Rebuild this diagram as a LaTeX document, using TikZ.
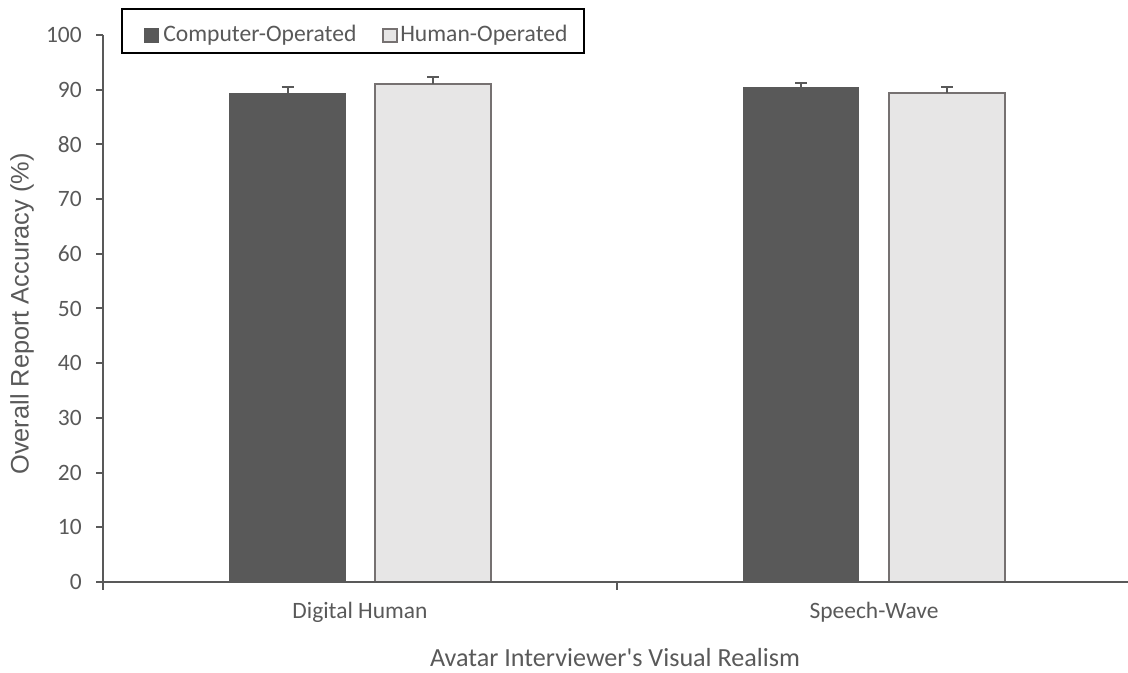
\documentclass[tikz,border=0pt]{standalone}
\usepackage{fontspec}
\setmainfont{Carlito}
\newfontfamily\ylabelfont{Liberation Sans}
\definecolor{txt}{HTML}{595959}
\definecolor{codark}{HTML}{595959}
\definecolor{holight}{HTML}{E7E6E6}
\definecolor{hoedge}{HTML}{767171}
\definecolor{axisc}{HTML}{595959}

\begin{document}
\begin{tikzpicture}[x=0.75pt,y=-0.75pt,
  axisline/.style={draw=axisc,line width=1.5pt},
  tickmark/.style={draw=axisc,line width=1.5pt},
  cobar/.style={fill=codark},
  hobar/.style={fill=holight,draw=hoedge,line width=1.5pt},
  errbar/.style={draw=axisc,line width=1.5pt},
  ticklab/.style={text=txt,font=\fontsize{17.6}{20}\selectfont,inner sep=0pt},
  titlelab/.style={text=txt,font=\fontsize{19.6}{22}\selectfont,inner sep=0pt},
  legtext/.style={text=txt,font=\fontsize{17.7}{20}\selectfont,inner sep=0pt,anchor=west},
]
\useasboundingbox (0,0) rectangle (1128,673);

% value -> pixel row
\def\Y#1{582-#1*5.47}

% bars: Computer-Operated (dark) and Human-Operated (light)
\fill[cobar] (229,582) rectangle (346,{\Y{89.34}});
\draw[hobar] (375,582) rectangle (491,{\Y{91.04}});
\fill[cobar] (743,582) rectangle (859,{\Y{90.44}});
\draw[hobar] (889,582) rectangle (1005,{\Y{89.34}});

% upper error bars
\foreach \xc/\lo/\hi in {287.5/89.34/90.44, 433/91.04/92.27, 801/90.44/91.28, 947/89.34/90.55}{
  \draw[errbar] (\xc,{\Y{\lo}}) -- (\xc,{\Y{\hi}});
  \draw[errbar] (\xc-6,{\Y{\hi}}) -- (\xc+6,{\Y{\hi}});
}

% axes
\draw[axisline] (103,{\Y{100}}) -- (103,582) -- (1128,582);
\draw[tickmark] (617,582) -- (617,590);
\draw[tickmark] (103,582) -- (103,590);
\foreach \v in {0,10,...,100}{
  \draw[tickmark] (96,{\Y{\v}}) -- (103,{\Y{\v}});
  \node[ticklab,anchor=east] (yt\v) at (82,{\Y{\v}}) {\v};
}

% category labels
\node[ticklab] (catdh) at (360,612) {Digital Human};
\node[ticklab] (catsw) at (874,612) {Speech-Wave};

% axis titles
\node[titlelab] (xtitle) at (615,658) {Avatar Interviewer\textquotesingle s Visual Realism};
\node[text=txt,inner sep=0pt,rotate=90,font=\ylabelfont\fontsize{19}{22}\selectfont] (ytitle) at (22,314) {Overall Report Accuracy (\%)};

% legend
\draw[black,line width=1.5pt,fill=white] (122,9) rectangle (584,53);
\fill[codark] (144,28) rectangle (159,43);
\node[legtext] (legco) at (163,35) {Computer-Operated};
\draw[hoedge,fill=holight,line width=1pt] (383,29) rectangle (397,42);
\node[legtext] (legho) at (400,35) {Human-Operated};
\end{tikzpicture}
\end{document}
